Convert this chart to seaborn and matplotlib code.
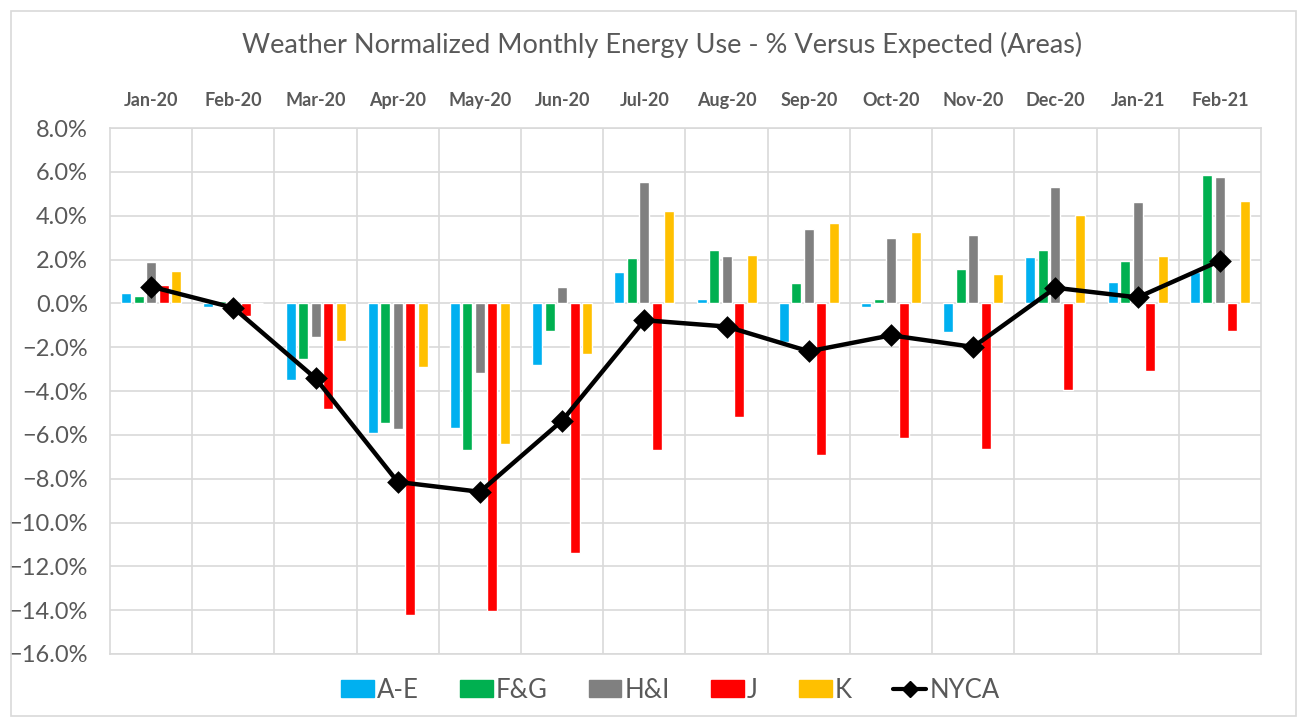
import pandas as pd
import matplotlib
matplotlib.use("Agg")
import matplotlib.pyplot as plt
import seaborn as sns
from matplotlib.lines import Line2D
from matplotlib.patches import Patch, Rectangle
from matplotlib.ticker import PercentFormatter, MultipleLocator

# Dados (em %)
months = ["Jan-20", "Feb-20", "Mar-20", "Apr-20", "May-20", "Jun-20", "Jul-20",
          "Aug-20", "Sep-20", "Oct-20", "Nov-20", "Dec-20", "Jan-21", "Feb-21"]
areas = ["A-E", "F&G", "H&I", "J", "K"]

a_e = [0.45, -0.18, -3.5, -5.9, -5.7, -2.8, 1.43, 0.18, -1.78, -0.17, -1.29, 2.11, 0.97, 1.44]
f_g = [0.32, 0.10, -2.55, -5.45, -6.7, -1.26, 2.06, 2.43, 0.91, 0.20, 1.56, 2.44, 1.91, 5.87]
h_i = [1.88, 0.0, -1.55, -5.75, -3.2, 0.73, 5.54, 2.14, 3.41, 2.97, 3.12, 5.33, 4.61, 5.78]
j = [0.82, -0.6, -4.82, -14.2, -14.05, -11.4, -6.7, -5.2, -6.9, -6.15, -6.65, -3.95, -3.08, -1.26]
k = [1.46, 0.0, -1.72, -2.9, -6.4, -2.3, 4.2, 2.2, 3.66, 3.26, 1.33, 4.02, 2.18, 4.69]
nyca = [0.76, -0.2, -3.42, -8.15, -8.6, -5.35, -0.77, -1.06, -2.19, -1.46, -1.99, 0.71, 0.27, 1.94]

colors = ["#00B0F0", "#00B050", "#808080", "#FF0000", "#FFC000"]
txt = "#595959"
grid = "#D9D9D9"

df = pd.DataFrame({"Month": months * 5,
                   "Area": sum([[a] * len(months) for a in areas], []),
                   "Value": a_e + f_g + h_i + j + k})

sns.set_style("white")
plt.rcParams["font.family"] = ["Lato", "DejaVu Sans"]

fig = plt.figure(figsize=(13.03, 7.17), dpi=100)
ax = fig.add_axes([110 / 1303, 1 - 654 / 717, 1151 / 1303, 526 / 717])

sns.barplot(data=df, x="Month", y="Value", hue="Area", order=months, hue_order=areas,
            palette=colors, width=0.76, gap=0.2, ax=ax, legend=False, saturation=1)
sns.pointplot(x=months, y=nyca, color="black", markers="D", markersize=9,
              linewidth=3.2, ax=ax)

# Eixos
ax.set_ylim(-16, 8)
ax.set_xlim(-0.5, len(months) - 0.5)
ax.yaxis.set_major_locator(MultipleLocator(2))
ax.yaxis.set_major_formatter(PercentFormatter(decimals=1))
ax.xaxis.tick_top()
ax.tick_params(axis="x", length=0, pad=14, labelsize=13, labelcolor=txt)
ax.tick_params(axis="y", length=0, pad=16, labelsize=17, labelcolor=txt)
for lb in ax.get_xticklabels():
    lb.set_fontweight("bold")
ax.set_xlabel("")
ax.set_ylabel("")
ax.grid(axis="y", color=grid, linewidth=1.2)
for xv in range(len(months) - 1):
    ax.axvline(xv + 0.5, color=grid, linewidth=1.2, zorder=0)
for s in ax.spines.values():
    s.set_color(grid)
    s.set_linewidth(1.2)
ax.set_axisbelow(True)

fig.suptitle("Weather Normalized Monthly Energy Use - % Versus Expected (Areas)",
             x=662 / 1303, y=1 - 45 / 717, va="center", fontsize=19.5, color=txt)

handles = [Patch(color=c, label=a) for c, a in zip(colors, areas)]
handles.append(Line2D([], [], color="black", marker="D", markersize=8, linewidth=3, label="NYCA"))
fig.legend(handles=handles, loc="center", bbox_to_anchor=(670 / 1303, 1 - 690 / 717), ncol=6,
           frameon=False, fontsize=18.5, labelcolor=txt, handlelength=1.28, handleheight=0.66,
           handletextpad=0.12, columnspacing=1.6)

# Borda do grafico
fig.patches.append(Rectangle((11 / 1303, 1 / 717), 1285 / 1303, 705 / 717, transform=fig.transFigure,
                             fill=False, edgecolor=grid, linewidth=1.2))

fig.savefig("out.png", dpi=100)
